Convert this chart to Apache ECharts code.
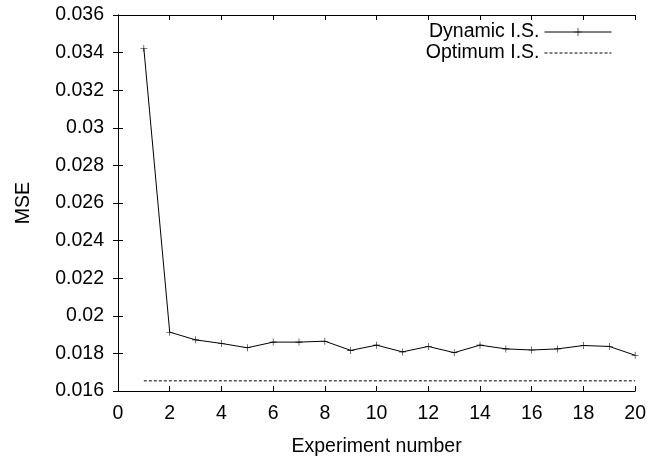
<!DOCTYPE html>
<html>
<head>
<meta charset="utf-8">
<script src="https://cdn.jsdelivr.net/npm/echarts@6/dist/echarts.min.js"></script>
<style>
  html, body { margin: 0; padding: 0; background: #fff; }
  #chart { width: 649px; height: 462px; }
</style>
</head>
<body>
<div id="chart"></div>
<script>
// experiment numbers
const experiments = [1, 2, 3, 4, 5, 6, 7, 8, 9, 10, 11, 12, 13, 14, 15, 16, 17, 18, 19, 20]
// MSE of the dynamic importance sampling, per experiment
const dynamicMSE = [0.03422, 0.01913, 0.01872, 0.01853, 0.0183, 0.0186, 0.0186, 0.01865, 0.01816, 0.01844,
  0.01808, 0.01837, 0.01804, 0.01844, 0.01824, 0.01818, 0.01824, 0.01842, 0.01837, 0.0179]
// optimum importance sampling (constant line from first to last experiment)
const optimumX = [1, 20]
const optimumMSE = [0.01654, 0.01654]

const font = 'Liberation Sans'
const fontSize = 19.5
const black = '#000'

const chart = echarts.init(document.getElementById('chart'))

const tickStyle = { show: true, inside: true, length: 5, lineStyle: { color: black, width: 1 } }
const lineStyle = { show: true, lineStyle: { color: black, width: 1 } }

// thin "+" marker like gnuplot's point type 1
const plusSymbol = 'path://M0,4.6H10V5.4H0Z M4.6,0H5.4V10H4.6Z'

chart.setOption({
  animation: false,
  backgroundColor: '#fff',
  textStyle: { fontFamily: font, color: black },
  grid: { left: 118, right: 13, top: 15, bottom: 65 },
  legend: {
    orient: 'vertical',
    align: 'right',
    right: 37,
    top: 22,
    padding: 0,
    itemWidth: 67,
    itemHeight: 10,
    itemGap: 1,
    lineStyle: { width: 1 },
    textStyle: { fontFamily: font, fontSize: fontSize, color: black, lineHeight: 16 },
    data: [
      { name: 'Dynamic I.S.' },
      { name: 'Optimum I.S.', itemStyle: { opacity: 0 } }
    ]
  },
  xAxis: [
    {
      type: 'value',
      min: 0,
      max: 20,
      interval: 2,
      name: 'Experiment number',
      nameLocation: 'middle',
      nameGap: 46,
      nameTextStyle: { fontFamily: font, fontSize: fontSize, color: black },
      axisLine: lineStyle,
      axisTick: tickStyle,
      axisLabel: { fontFamily: font, fontSize: fontSize, color: black, margin: 13 },
      splitLine: { show: false }
    },
    {
      type: 'value',
      position: 'top',
      min: 0,
      max: 20,
      interval: 2,
      axisLine: lineStyle,
      axisTick: tickStyle,
      axisLabel: { show: false },
      splitLine: { show: false }
    }
  ],
  yAxis: [
    {
      type: 'value',
      min: 0.016,
      max: 0.036,
      interval: 0.002,
      name: 'MSE',
      nameLocation: 'middle',
      nameRotate: 90,
      nameGap: 84,
      nameTextStyle: { fontFamily: font, fontSize: fontSize, color: black },
      axisLine: lineStyle,
      axisTick: tickStyle,
      axisLabel: {
        fontFamily: font,
        fontSize: fontSize,
        color: black,
        margin: 14,
        formatter: v => String(parseFloat(v.toFixed(3)))
      },
      splitLine: { show: false }
    },
    {
      type: 'value',
      position: 'right',
      min: 0.016,
      max: 0.036,
      interval: 0.002,
      axisLine: lineStyle,
      axisTick: tickStyle,
      axisLabel: { show: false },
      splitLine: { show: false }
    }
  ],
  series: [
    {
      name: 'Dynamic I.S.',
      type: 'line',
      data: experiments.map((x, i) => [x, dynamicMSE[i]]),
      symbol: plusSymbol,
      symbolSize: 7,
      showAllSymbol: true,
      itemStyle: { color: black },
      lineStyle: { color: black, width: 1 }
    },
    {
      name: 'Optimum I.S.',
      type: 'line',
      data: optimumX.map((x, i) => [x, optimumMSE[i]]),
      symbol: 'none',
      itemStyle: { color: black },
      lineStyle: { color: black, width: 1, type: [3, 2] }
    }
  ]
})
</script>
</body>
</html>
